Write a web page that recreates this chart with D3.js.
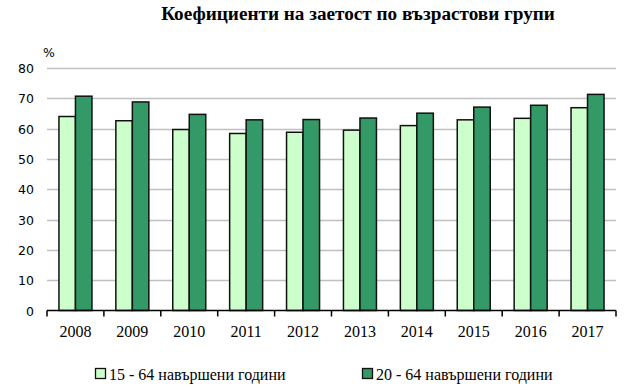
<!DOCTYPE html>
<html><head><meta charset="utf-8">
<script src="https://cdn.jsdelivr.net/npm/d3@7"></script>
<style>body{margin:0;background:#fff}svg{display:block}</style>
</head><body>
<svg id="c" width="630" height="390"></svg>
<script>
const years = ["2008","2009","2010","2011","2012","2013","2014","2015","2016","2017"];
const series1 = [64.0,62.6,59.7,58.4,58.8,59.5,61.0,62.9,63.4,66.9];
const series2 = [70.7,68.8,64.7,62.9,63.0,63.5,65.1,67.1,67.7,71.3];
const seriesNames = ["15 - 64 навършени години","20 - 64 навършени години"];
const yTicks = [0,10,20,30,40,50,60,70,80];
const colors = ["#ccffcc","#339966"];

const svg = d3.select("#c");
const m = {l:47, r:14, t:68, b:80};
const W = 630, H = 390;
const x = d3.scaleBand().domain(years).range([m.l, W-m.r]).paddingInner(0).paddingOuter(0);
const y = d3.scaleLinear().domain([0,80]).range([H-m.b+0.5, m.t]);

// gridlines
svg.append("g").selectAll("line").data(yTicks.filter(d=>d>0)).join("line")
  .attr("x1", m.l).attr("x2", W-m.r)
  .attr("y1", d=>Math.round(y(d))+0.5).attr("y2", d=>Math.round(y(d))+0.5)
  .attr("stroke","#c0c0c0").attr("stroke-width",1.5);

// y labels
svg.append("g").selectAll("text").data(yTicks).join("text")
  .attr("x", 34).attr("y", d=>y(d)+5)
  .attr("text-anchor","end").attr("font-family","DejaVu Sans, Verdana, sans-serif")
  .attr("font-size",12.5).attr("fill","#000").text(d=>d);
svg.append("text").attr("x",43).attr("y",57).attr("font-family","DejaVu Sans, sans-serif")
  .attr("font-size",12.5).text("%");

// bars
const bw = x.bandwidth()*0.29;
const groups = [series1, series2];
groups.forEach((s,i)=>{
  svg.append("g").selectAll("rect").data(years).join("rect")
    .attr("x", (d)=>x(d)+x.bandwidth()/2 - bw + i*bw)
    .attr("y", (d,j)=>y(s[j]))
    .attr("width", bw).attr("height",(d,j)=>y(0)-y(s[j]))
    .attr("fill", colors[i]).attr("stroke","#111").attr("stroke-width",1.5);
});

// x axis
const xa = svg.append("g").attr("transform",`translate(0,${y(0)})`);
xa.append("line").attr("x1",m.l).attr("x2",W-m.r).attr("stroke","#000").attr("stroke-width",1.5);
const bounds = years.map(d=>x(d)).concat([x(years[years.length-1])+x.bandwidth()]);
xa.selectAll("line.t").data(bounds).join("line").attr("class","t")
  .attr("x1",d=>d).attr("x2",d=>d).attr("y1",0).attr("y2",6)
  .attr("stroke","#000").attr("stroke-width",1.5);
xa.selectAll("text").data(years).join("text")
  .attr("x",d=>x(d)+x.bandwidth()/2).attr("y",26.5)
  .attr("text-anchor","middle").attr("font-family","'Liberation Serif', 'Times New Roman', serif")
  .attr("font-size",16).text(d=>d);

// title
svg.append("text").attr("x",358).attr("y",20).attr("text-anchor","middle")
  .attr("font-family","'Liberation Serif', 'Times New Roman', serif").attr("font-weight","bold")
  .attr("font-size",19.2).text("Коефициенти на заетост по възрастови групи");

// legend
const lx = [95, 362];
seriesNames.forEach((n,i)=>{
  svg.append("rect").attr("x",lx[i]+0.5).attr("y",368.5).attr("width",10).attr("height",10)
    .attr("fill",colors[i]).attr("stroke","#111").attr("stroke-width",1.3);
  svg.append("text").attr("x",lx[i]+14).attr("y",380)
    .attr("font-family","'Liberation Serif', 'Times New Roman', serif").attr("font-size",16).text(n);
});
</script>
</body></html>
